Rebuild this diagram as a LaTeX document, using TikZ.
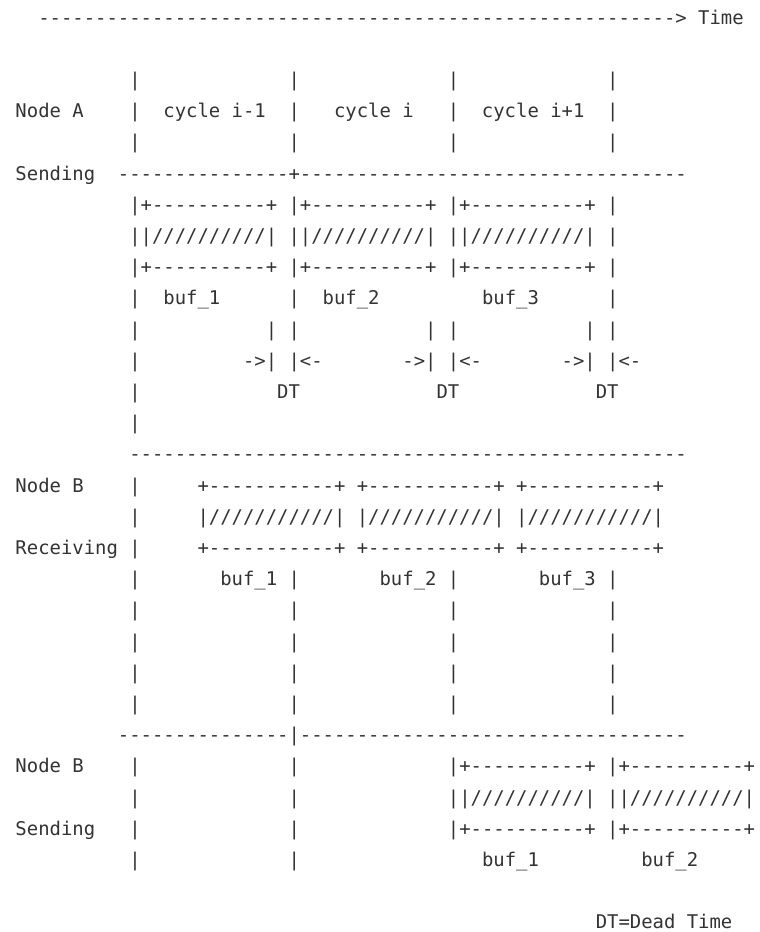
\documentclass[tikz,border=0pt]{standalone}
\usepackage{fontspec}
\setmonofont{DejaVu Sans Mono}
\ExplSyntaxOn
\cs_new:Npn \rpt #1#2 { \prg_replicate:nn {#1} {#2} }
\ExplSyntaxOff
\definecolor{txt}{RGB}{51,51,51}
% box pieces
\newcommand\bx{|+\rpt{10}{-}+}
\newcommand\hx{||\rpt{10}{/}|}
\newcommand\bb{+\rpt{11}{-}+}
\newcommand\hb{|\rpt{11}{/}|}
\newcommand\vbars{\rpt{10}{~}|\rpt{13}{~}|\rpt{13}{~}|\rpt{13}{~}|}
\newcommand\asrow[3]{\node[asc] (#1) at (15.5,{-(24+31.2*#2)}) {#3};}
\begin{document}
\begin{tikzpicture}[x=1pt,y=1pt,
  asc/.style={inner sep=0pt,outer sep=0pt,anchor=base west,text=txt,
    font=\ttfamily\fontsize{18.9}{20}\selectfont}]
\useasboundingbox (0,0) rectangle (760,-932);
\asrow{r0}{0}{\rpt{2}{~}\rpt{56}{-}>~Time}
\asrow{r2}{2}{\vbars}
\asrow{r3}{3}{Node~A\rpt{4}{~}|~~cycle~i-1~~|\rpt{3}{~}cycle~i\rpt{3}{~}|~~cycle~i+1~~|}
\asrow{r4}{4}{\vbars}
\asrow{r5}{5}{Sending~~\rpt{15}{-}+\rpt{34}{-}}
\asrow{r6}{6}{\rpt{10}{~}\bx~\bx~\bx~|}
\asrow{r7}{7}{\rpt{10}{~}\hx~\hx~\hx~|}
\asrow{r8}{8}{\rpt{10}{~}\bx~\bx~\bx~|}
\asrow{r9}{9}{\rpt{10}{~}|~~buf\_1\rpt{6}{~}|~~buf\_2\rpt{9}{~}buf\_3\rpt{6}{~}|}
\asrow{r10}{10}{\rpt{10}{~}|\rpt{11}{~}|~|\rpt{11}{~}|~|\rpt{11}{~}|~|}
\asrow{r11}{11}{\rpt{10}{~}|\rpt{9}{~}->|~|<-\rpt{7}{~}->|~|<-\rpt{7}{~}->|~|<-}
\asrow{r12}{12}{\rpt{10}{~}|\rpt{12}{~}DT\rpt{12}{~}DT\rpt{12}{~}DT}
\asrow{r13}{13}{\rpt{10}{~}|}
\asrow{r14}{14}{\rpt{10}{~}\rpt{49}{-}}
\asrow{r15}{15}{Node~B\rpt{4}{~}|\rpt{5}{~}\bb~\bb~\bb}
\asrow{r16}{16}{\rpt{10}{~}|\rpt{5}{~}\hb~\hb~\hb}
\asrow{r17}{17}{Receiving~|\rpt{5}{~}\bb~\bb~\bb}
\asrow{r18}{18}{\rpt{10}{~}|\rpt{7}{~}buf\_1~|\rpt{7}{~}buf\_2~|\rpt{7}{~}buf\_3~|}
\asrow{r19}{19}{\vbars}
\asrow{r20}{20}{\vbars}
\asrow{r21}{21}{\vbars}
\asrow{r22}{22}{\vbars}
\asrow{r23}{23}{\rpt{9}{~}\rpt{15}{-}|\rpt{34}{-}}
\asrow{r24}{24}{Node~B\rpt{4}{~}|\rpt{13}{~}|\rpt{13}{~}\bx~\bx}
\asrow{r25}{25}{\rpt{10}{~}|\rpt{13}{~}|\rpt{13}{~}\hx~\hx}
\asrow{r26}{26}{Sending\rpt{3}{~}|\rpt{13}{~}|\rpt{13}{~}\bx~\bx}
\asrow{r27}{27}{\rpt{10}{~}|\rpt{13}{~}|\rpt{16}{~}buf\_1\rpt{9}{~}buf\_2}
\asrow{r29}{29}{\rpt{51}{~}DT=Dead~Time}
\end{tikzpicture}
\end{document}
